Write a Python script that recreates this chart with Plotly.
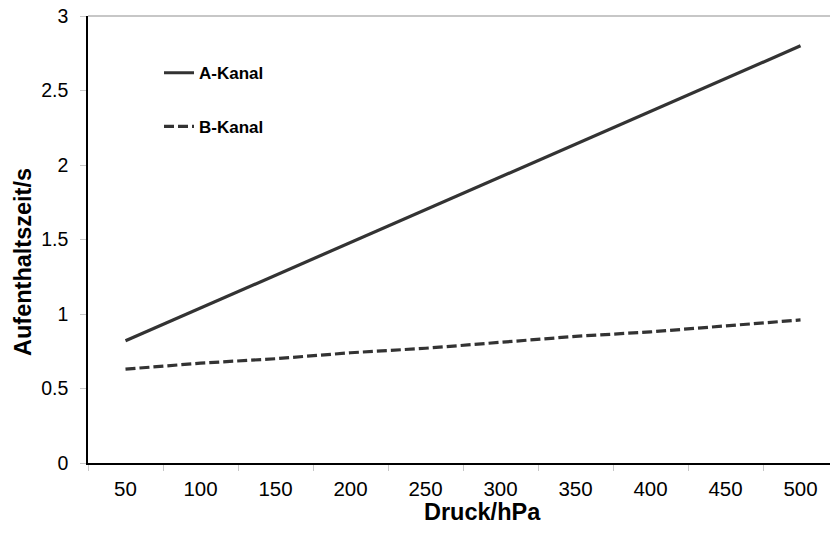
import plotly.graph_objects as go

# Druck in hPa (category axis)
pressure = ["50", "100", "150", "200", "250", "300", "350", "400", "450", "500"]
# Aufenthaltszeit in s
a_kanal = [0.82, 1.04, 1.26, 1.48, 1.70, 1.92, 2.14, 2.36, 2.58, 2.80]
b_kanal = [0.63, 0.67, 0.70, 0.74, 0.77, 0.81, 0.85, 0.88, 0.92, 0.96]

y_ticks = [0, 0.5, 1, 1.5, 2, 2.5, 3]
y_ticktext = ["0", "0.5", "1", "1.5", "2", "2.5", "3"]

line_color = "#333333"
font_family = "Liberation Sans, Arial, sans-serif"

fig = go.Figure()
fig.add_trace(go.Scatter(
    x=pressure, y=a_kanal, mode="lines", name="A-Kanal",
    line=dict(color=line_color, width=3.2), legend="legend",
))
fig.add_trace(go.Scatter(
    x=pressure, y=b_kanal, mode="lines", name="B-Kanal",
    line=dict(color=line_color, width=3.2, dash="10px,4px"), legend="legend2",
))

legend_style = dict(
    font=dict(family=font_family, size=17, color="#000000", weight="bold"),
    bgcolor="rgba(0,0,0,0)", borderwidth=0,
    xanchor="left", yanchor="middle", itemwidth=30,
)

fig.update_layout(
    width=830, height=533,
    margin=dict(l=88, r=0, t=16, b=70),
    paper_bgcolor="white", plot_bgcolor="white",
    font=dict(family=font_family, color="#000000"),
    showlegend=True,
    legend=dict(x=0.0957, y=0.872, **legend_style),
    legend2=dict(x=0.0957, y=0.752, **legend_style),
    xaxis=dict(
        type="category",
        range=[-0.5, 9.393],
        showline=True, linecolor="#000000", linewidth=1.5,
        showgrid=False, zeroline=False,
        ticks="outside", tickson="boundaries", ticklen=6,
        tickcolor="#c8c8c8", tickwidth=1,
        ticklabelstandoff=7,
        tickfont=dict(size=20.5, color="#000000"),
    ),
    yaxis=dict(
        range=[0, 3],
        tickvals=y_ticks, ticktext=y_ticktext,
        showline=True, linecolor="#000000", linewidth=1.5,
        showgrid=False, zeroline=False,
        ticks="outside", ticklen=6, tickcolor="#c8c8c8", tickwidth=1,
        ticklabelstandoff=8,
        tickfont=dict(size=19.5, color="#000000"),
    ),
    shapes=[dict(
        type="line", xref="paper", yref="paper",
        x0=0, x1=1, y0=1, y1=1,
        line=dict(color="#b4b4b4", width=1.5),
    )],
    annotations=[
        dict(text="Druck/hPa", xref="paper", yref="paper",
             x=0.531, y=0, yshift=-49, xanchor="center", yanchor="middle",
             showarrow=False,
             font=dict(size=23.5, family=font_family, weight="bold", color="#000000")),
        dict(text="Aufenthaltszeit/s", xref="paper", yref="paper",
             x=0, xshift=-65, y=0.4497, xanchor="center", yanchor="middle",
             textangle=-90, showarrow=False,
             font=dict(size=23.5, family=font_family, weight="bold", color="#000000")),
    ],
)

fig.write_html("out.html")
